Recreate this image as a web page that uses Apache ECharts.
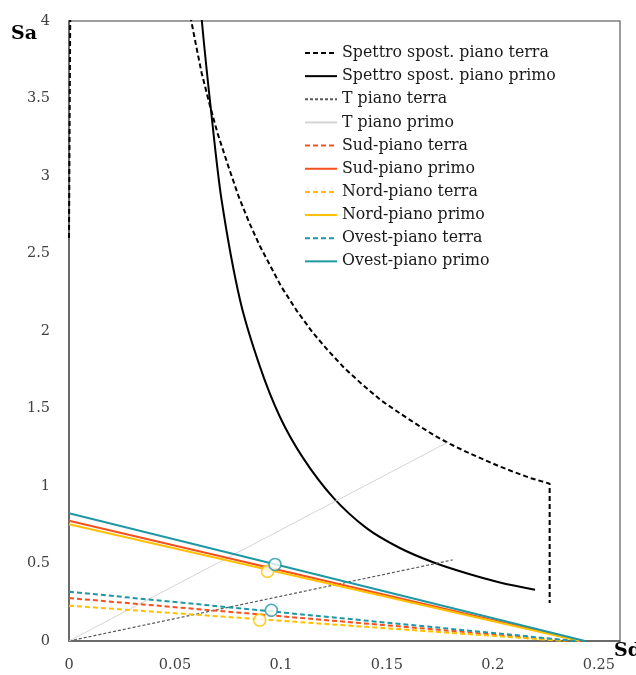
<!DOCTYPE html>
<html>
<head>
<meta charset="utf-8">
<script src="https://cdn.jsdelivr.net/npm/echarts@6/dist/echarts.min.js"></script>
<style>
html,body{margin:0;padding:0;background:#fff;}
#chart{width:636px;height:675px;}
</style>
</head>
<body>
<div id="chart"></div>
<script>
// ---- Data ----
const seriesNames = [
  'Spettro spost. piano terra',
  'Spettro spost. piano primo',
  'T piano terra',
  'T piano primo',
  'Sud-piano terra',
  'Sud-piano primo',
  'Nord-piano terra',
  'Nord-piano primo',
  'Ovest-piano terra',
  'Ovest-piano primo'
];

// [Sd, Sa] points
const spettroTerra = [
  [0, 2.6], [0.0008, 4.6], [0.05, 4.6], [0.0565, 4.1], [0.0577, 4.0], [0.06, 3.84],
  [0.0625, 3.67], [0.066, 3.48], [0.07, 3.28], [0.075, 3.07], [0.08, 2.87],
  [0.085, 2.70], [0.09, 2.55], [0.095, 2.42], [0.10, 2.29], [0.1075, 2.13],
  [0.115, 1.99], [0.1225, 1.87], [0.13, 1.76], [0.138, 1.66], [0.147, 1.555],
  [0.156, 1.47], [0.165, 1.39], [0.1725, 1.325], [0.18, 1.27], [0.1875, 1.22],
  [0.195, 1.175], [0.2025, 1.13], [0.21, 1.09], [0.218, 1.05], [0.2268, 1.015],
  [0.2268, 0.245]
];
const spettroPrimo = [
  [0.0612, 4.3], [0.0627, 4.0], [0.0672, 3.4], [0.072, 2.845], [0.0807, 2.2],
  [0.0901, 1.77], [0.0995, 1.447], [0.1105, 1.18], [0.1247, 0.925],
  [0.1404, 0.728], [0.1561, 0.60], [0.1718, 0.508], [0.1876, 0.437],
  [0.2033, 0.378], [0.2199, 0.331]
];
const tTerra = [[0, 0], [0.181, 0.523]];
const tPrimo = [[0, 0], [0.179, 1.284]];
const sudTerra = [[0, 0.277], [0.236, 0]];
const sudPrimo = [[0, 0.776], [0.242, 0]];
const nordTerra = [[0, 0.228], [0.234, 0]];
const nordPrimo = [[0, 0.753], [0.241, 0]];
const ovestTerra = [[0, 0.318], [0.239, 0]];
const ovestPrimo = [[0, 0.824], [0.2435, 0]];

// performance points (open circles)
const ovestPrimoPoint = [[0.0972, 0.494]];
const nordPrimoPoint = [[0.0937, 0.449]];
const ovestTerraPoint = [[0.0955, 0.198]];
const nordTerraPoint = [[0.090, 0.135]];

// axes
const xMin = 0, xMax = 0.26, xStep = 0.05;
const yMin = 0, yMax = 4, yStep = 0.5;

// ---- Styling ----
const SERIF = 'DejaVu Serif';
const C_SUD = '#F4511E';
const C_NORD = '#FFC000';
const C_OVEST = '#1F98A4';
const DASH = [5, 3];

function lineSeries(name, data, color, width, type, smooth) {
  return {
    name: name, type: 'line', data: data, symbol: 'none',
    smooth: smooth || false,
    lineStyle: { color: color, width: width, type: type },
    itemStyle: { color: color },
    animation: false, silent: true
  };
}
function pointSeries(name, data, color) {
  return {
    name: name, type: 'scatter', data: data, symbol: 'circle', symbolSize: 12,
    itemStyle: { color: '#fff', borderColor: color, borderWidth: 1.6 },
    animation: false, silent: true, z: 5
  };
}

const chart = echarts.init(document.getElementById('chart'), null, { renderer: 'canvas' });
chart.setOption({
  backgroundColor: '#fff',
  animation: false,
  grid: {
    left: 69, right: 16, top: 21, bottom: 34,
    show: true, borderColor: '#7f7f7f', borderWidth: 1.5, backgroundColor: 'transparent'
  },
  xAxis: {
    type: 'value', min: xMin, max: xMax, interval: xStep,
    axisLine: { show: true, lineStyle: { color: '#595959', width: 1.5 } },
    axisTick: { show: false },
    splitLine: { show: false },
    axisLabel: {
      margin: 17, color: '#404040', fontFamily: SERIF, fontSize: 14.5,
      showMaxLabel: false,
      formatter: function (v) {
        if (Math.abs(v - xMax) < 1e-9) return '';
        return String(+v.toFixed(4));
      }
    }
  },
  yAxis: {
    type: 'value', min: yMin, max: yMax, interval: yStep,
    axisLine: { show: true, lineStyle: { color: '#595959', width: 1.5 } },
    axisTick: { show: false },
    splitLine: { show: false },
    axisLabel: {
      margin: 19, color: '#404040', fontFamily: SERIF, fontSize: 14.5,
      formatter: function (v) { return String(+v.toFixed(4)); }
    }
  },
  legend: {
    data: seriesNames,
    orient: 'vertical',
    left: 304, top: 45, padding: 0,
    itemWidth: 32, itemHeight: 14, itemGap: 7.15,
    itemStyle: { color: 'transparent', borderWidth: 0, opacity: 0 },
    textStyle: { fontFamily: SERIF, fontSize: 15.8, lineHeight: 16, color: '#1a1a1a' },
    selectedMode: false
  },
  graphic: [
    { type: 'text', left: 11, top: 25, style: { text: 'Sa', font: 'bold 19px "DejaVu Serif"', fill: '#000' } },
    { type: 'text', left: 614, top: 642, style: { text: 'Sd', font: 'bold 19px "DejaVu Serif"', fill: '#000' } }
  ],
  series: [
    lineSeries(seriesNames[0], spettroTerra, '#000', 2, DASH),
    lineSeries(seriesNames[1], spettroPrimo, '#000', 2, 'solid', 0.3),
    lineSeries(seriesNames[2], tTerra, '#595959', 1.2, [3, 2]),
    lineSeries(seriesNames[3], tPrimo, '#d4d4d4', 1, 'solid'),
    lineSeries(seriesNames[4], sudTerra, C_SUD, 2, DASH),
    lineSeries(seriesNames[5], sudPrimo, C_SUD, 2, 'solid'),
    lineSeries(seriesNames[6], nordTerra, C_NORD, 2, DASH),
    lineSeries(seriesNames[7], nordPrimo, C_NORD, 2, 'solid'),
    lineSeries(seriesNames[8], ovestTerra, C_OVEST, 2, DASH),
    lineSeries(seriesNames[9], ovestPrimo, C_OVEST, 2, 'solid'),
    pointSeries('Nord-piano primo punto', nordPrimoPoint, C_NORD),
    pointSeries('Ovest-piano primo punto', ovestPrimoPoint, C_OVEST),
    pointSeries('Nord-piano terra punto', nordTerraPoint, C_NORD),
    pointSeries('Ovest-piano terra punto', ovestTerraPoint, C_OVEST)
  ]
});
</script>
</body>
</html>
